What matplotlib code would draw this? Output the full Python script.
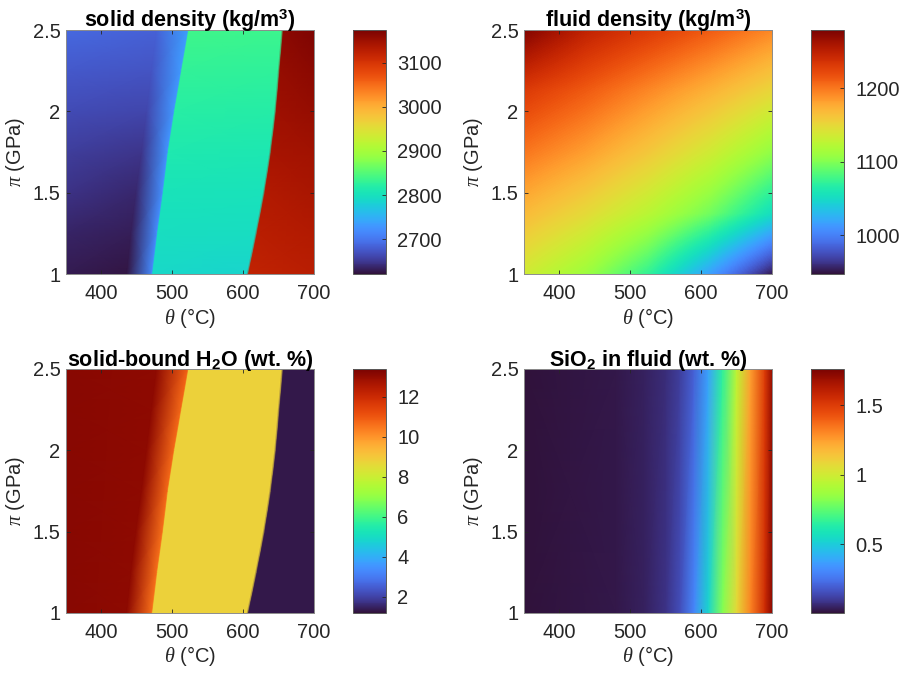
import numpy as np
import matplotlib
matplotlib.use("Agg")
import matplotlib.pyplot as plt
from matplotlib.ticker import FormatStrFormatter

plt.rcParams["font.family"] = ["Liberation Sans", "DejaVu Sans"]
plt.rcParams["mathtext.fontset"] = "custom"
plt.rcParams["mathtext.rm"] = "Liberation Sans"
plt.rcParams["mathtext.it"] = "Liberation Serif:italic"
plt.rcParams["mathtext.bf"] = "Liberation Sans:bold"

# pressure rows (GPa) shared by the phase-field panels
P_rows = [1.0, 1.25, 1.5, 1.75, 2.0, 2.25, 2.5]

# phase boundaries (degC) at each pressure row
onset_T = [436, 442, 449, 457, 464, 471, 478]    # start of the low-T breakdown zone
react1_T = [471, 478, 486, 493, 502, 512, 522]   # first dehydration reaction
react2_T = [605, 617, 628, 637, 644, 649, 654]   # second dehydration reaction

# solid density (kg/m3) on columns: 350, onset, react1-, react1+, react2-, react2+, 700
rho_s_350 = [2628, 2636, 2645, 2655, 2666, 2677, 2688]
rho_s_onset = [2624, 2630, 2638, 2648, 2660, 2671, 2682]
rho_s_r1_lo = [2718, 2720, 2722, 2725, 2728, 2731, 2735]
rho_s_r1_hi = [2790, 2797, 2804, 2812, 2820, 2829, 2838]
rho_s_r2_lo = [2786, 2794, 2802, 2810, 2818, 2827, 2836]
rho_s_r2_hi = [3122, 3128, 3135, 3142, 3150, 3156, 3162]
rho_s_700 = [3128, 3134, 3141, 3148, 3156, 3163, 3170]

# solid-bound H2O (wt. %) on the same columns
h2o_350 = [13.2, 13.2, 13.2, 13.2, 13.2, 13.2, 13.2]
h2o_onset = [13.1, 13.1, 13.1, 13.1, 13.1, 13.1, 13.1]
h2o_r1_lo = [10.6, 10.6, 10.6, 10.7, 10.7, 10.7, 10.8]
h2o_r1_hi = [8.8, 8.8, 8.8, 8.8, 8.8, 8.8, 8.8]
h2o_r2_lo = [8.8, 8.8, 8.8, 8.8, 8.8, 8.8, 8.8]
h2o_r2_hi = [1.3, 1.3, 1.3, 1.3, 1.3, 1.3, 1.3]
h2o_700 = [1.3, 1.3, 1.3, 1.3, 1.3, 1.3, 1.3]

# fluid density (kg/m3) on a regular T-P grid (rows: P from 1 to 2.5)
fluid_T = [350, 437.5, 525, 612.5, 700]
fluid_P = [1.0, 1.375, 1.75, 2.125, 2.5]
rho_f = [
    [1135, 1110, 1072, 1015, 950],
    [1168, 1148, 1124, 1094, 1052],
    [1200, 1182, 1160, 1135, 1105],
    [1230, 1212, 1192, 1172, 1150],
    [1276, 1248, 1230, 1212, 1192],
]

# SiO2 in fluid (wt. %) along temperature, at low and high pressure
sio2_T = [350, 480, 520, 550, 570, 590, 610, 630, 650, 670, 690, 700]
sio2_P = [1.0, 2.5]
sio2_lowP = [0.01, 0.02, 0.04, 0.08, 0.15, 0.30, 0.53, 0.82, 1.07, 1.32, 1.56, 1.72]
sio2_highP = [0.01, 0.02, 0.04, 0.07, 0.11, 0.20, 0.37, 0.65, 0.95, 1.25, 1.50, 1.70]

JUMP1 = 1.5  # width of the first reaction front (degC)
JUMP2 = 3.0  # width of the second reaction front (degC)


def phase_mesh(cols):
    """Quad mesh whose columns follow the reaction boundaries."""
    T = np.array([
        np.full(len(P_rows), 350.0),
        onset_T,
        react1_T,
        np.array(react1_T) + JUMP1,
        react2_T,
        np.array(react2_T) + JUMP2,
        np.full(len(P_rows), 700.0),
    ], dtype=float).T
    P = np.repeat(np.array(P_rows)[:, None], T.shape[1], axis=1)
    C = np.array(cols, dtype=float).T
    return T, P, C


fig = plt.figure(figsize=(9.01, 6.73), dpi=100)

W, H = 901, 673
ax_w, ax_h = 248, 244
cb_w = 33
lefts = [66, 524]
cb_lefts = [353, 811]
tops = [30, 369]
FS = 14.5


def make_axes(row, col):
    ax = fig.add_axes([lefts[col] / W, (H - tops[row] - ax_h) / H, ax_w / W, ax_h / H])
    cax = fig.add_axes([cb_lefts[col] / W, (H - tops[row] - ax_h) / H, cb_w / W, ax_h / H])
    return ax, cax


def style(ax, cb, title, cticks):
    ax.set_xlim(350, 700)
    ax.set_ylim(1, 2.5)
    ax.set_xticks([400, 500, 600, 700])
    ax.set_yticks([1, 1.5, 2, 2.5])
    ax.yaxis.set_major_formatter(FormatStrFormatter("%g"))
    ax.tick_params(direction="in", length=3, labelsize=FS, colors="#262626",
                   width=0.6, top=True, right=True, labeltop=False, labelright=False)
    ax.tick_params(axis="x", pad=7)
    ax.tick_params(axis="y", pad=4)
    ax.set_xlabel(r"$\theta$ ($\degree$C)", fontsize=FS, color="#262626", labelpad=2)
    ax.set_ylabel(r"$\pi$ (GPa)", fontsize=FS, color="#262626", labelpad=4)
    ax.set_title(title, fontsize=15.5, fontweight="bold", pad=2)
    for s in ax.spines.values():
        s.set_color("#8c8c8c")
        s.set_linewidth(0.7)
    cb.set_ticks(cticks)
    cb.ax.yaxis.set_major_formatter(FormatStrFormatter("%g"))
    cb.ax.tick_params(direction="in", length=3, labelsize=FS, colors="#262626", width=0.6, pad=8)
    cb.outline.set_edgecolor("#595959")
    cb.outline.set_linewidth(0.7)


# solid density
ax, cax = make_axes(0, 0)
T, P, C = phase_mesh([rho_s_350, rho_s_onset, rho_s_r1_lo, rho_s_r1_hi,
                      rho_s_r2_lo, rho_s_r2_hi, rho_s_700])
m = ax.pcolormesh(T, P, C, shading="gouraud", cmap="turbo", vmin=2621, vmax=3174)
cb = fig.colorbar(m, cax=cax)
style(ax, cb, r"solid density (kg/m$^\mathbf{3}$)", [2700, 2800, 2900, 3000, 3100])

# fluid density, bilinear between grid nodes
ax, cax = make_axes(0, 1)
dT = fluid_T[1] - fluid_T[0]
dP = fluid_P[1] - fluid_P[0]
m = ax.imshow(np.array(rho_f, dtype=float), origin="lower", aspect="auto",
              interpolation="bilinear", cmap="turbo", vmin=947, vmax=1279,
              extent=[fluid_T[0] - dT / 2, fluid_T[-1] + dT / 2,
                      fluid_P[0] - dP / 2, fluid_P[-1] + dP / 2])
cb = fig.colorbar(m, cax=cax)
style(ax, cb, r"fluid density (kg/m$^\mathbf{3}$)", [1000, 1100, 1200])

# solid-bound water
ax, cax = make_axes(1, 0)
T, P, C = phase_mesh([h2o_350, h2o_onset, h2o_r1_lo, h2o_r1_hi,
                      h2o_r2_lo, h2o_r2_hi, h2o_700])
m = ax.pcolormesh(T, P, C, shading="gouraud", cmap="turbo", vmin=1.2, vmax=13.4)
cb = fig.colorbar(m, cax=cax)
style(ax, cb, r"solid-bound H$_\mathbf{2}$O (wt. %)", [2, 4, 6, 8, 10, 12])

# silica in fluid
ax, cax = make_axes(1, 1)
m = ax.pcolormesh(sio2_T, sio2_P, np.array([sio2_lowP, sio2_highP]), shading="gouraud",
                  cmap="turbo", vmin=0.004, vmax=1.76)
cb = fig.colorbar(m, cax=cax)
style(ax, cb, r"SiO$_\mathbf{2}$ in fluid (wt. %)", [0.5, 1, 1.5])

fig.savefig("out.png", dpi=100)
